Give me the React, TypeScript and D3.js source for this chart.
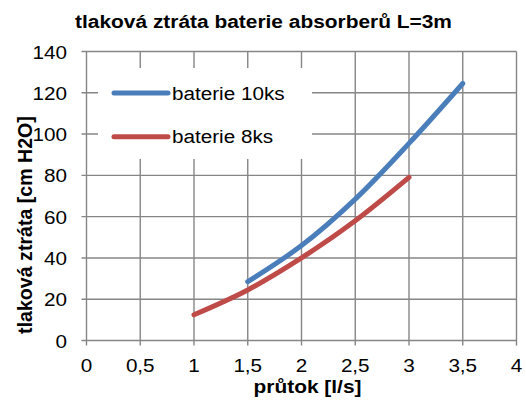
import React from "react";
import * as d3 from "d3";

const flowBlue = [1.5, 2, 2.5, 3, 3.5];
const lossBlue = [28.5, 46, 68.5, 95.5, 124.5];
const flowRed = [1, 1.5, 2, 2.5, 3];
const lossRed = [12.5, 24.5, 40, 58, 79];
const seriesNames = ["baterie 10ks", "baterie 8ks"];
const seriesColors = ["#4A7EBB", "#BE4B48"];
const xTicks = [0, 0.5, 1, 1.5, 2, 2.5, 3, 3.5, 4];
const yTicks = [0, 20, 40, 60, 80, 100, 120, 140];
const title = "tlaková ztráta baterie absorberů L=3m";
const xTitle = "průtok [l/s]";
const yTitle = "tlaková ztráta [cm H2O]";

const SX = 1.1;

function T(props: {
  x: number;
  y: number;
  size: number;
  bold?: boolean;
  anchor?: "start" | "middle" | "end";
  children: React.ReactNode;
}) {
  return (
    <text
      transform={`translate(${props.x},${props.y}) scale(${SX},1)`}
      textAnchor={props.anchor || "start"}
      fontSize={props.size}
      fontWeight={props.bold ? "bold" : "normal"}
      fill="#000"
    >
      {props.children}
    </text>
  );
}

export default function App() {
  const W = 526, H = 405;
  const left = 86.5, right = 516.5, top = 51.5, bottom = 340.5;
  const x = d3.scaleLinear().domain([0, 4]).range([left, right]);
  const y = d3.scaleLinear().domain([0, 140]).range([bottom, top]);
  const line = d3
    .line<[number, number]>()
    .x((d) => x(d[0]))
    .y((d) => y(d[1]))
    .curve(d3.curveCatmullRom.alpha(0.5));
  const series = [
    { name: seriesNames[0], color: seriesColors[0], pts: flowBlue.map((v, i) => [v, lossBlue[i]] as [number, number]) },
    { name: seriesNames[1], color: seriesColors[1], pts: flowRed.map((v, i) => [v, lossRed[i]] as [number, number]) },
  ];
  const font = "Liberation Sans, Arial, sans-serif";
  const grid = "#868686";
  const fmt = (v: number) => String(v).replace(".", ",");
  const fs = 18.8;
  return (
    <svg width={W} height={H} style={{ position: "absolute", left: 0, top: 0 }} fontFamily={font}>
      <rect width={W} height={H} fill="#fff" />
      <T x={263.5} y={28} size={19} bold anchor="middle">{title}</T>
      {xTicks.map((t) => (
        <line key={"gx" + t} x1={x(t)} x2={x(t)} y1={top} y2={bottom + 5} stroke={grid} strokeWidth={1.4} />
      ))}
      {yTicks.map((t) => (
        <line key={"gy" + t} x1={left - 5} x2={right} y1={y(t)} y2={y(t)} stroke={grid} strokeWidth={1.4} />
      ))}
      {yTicks.map((t) => (
        <T key={"ty" + t} x={67} y={y(t) + 7} size={fs} anchor="end">{t}</T>
      ))}
      {xTicks.map((t) => (
        <T key={"tx" + t} x={x(t)} y={371.5} size={fs} anchor="middle">{fmt(t)}</T>
      ))}
      <T x={307.5} y={393} size={19} bold anchor="middle">{xTitle}</T>
      <text
        transform={`translate(32,225) rotate(-90)`}
        textAnchor="middle"
        fontSize={19.6}
        fontWeight="bold"
        fill="#000"
      >
        {yTitle}
      </text>
      <rect x={98} y={68} width={214} height={91} fill="#fff" />
      {series.map((s) => (
        <path key={s.name} d={line(s.pts) || ""} fill="none" stroke={s.color} strokeWidth={5} strokeLinecap="round" />
      ))}
      {series.map((s, i) => (
        <g key={"lg" + i}>
          <line x1={114} x2={168} y1={93 + i * 43.7} y2={93 + i * 43.7} stroke={s.color} strokeWidth={5} strokeLinecap="round" />
          <T x={172} y={93 + i * 43.7 + 6.7} size={fs}>{s.name}</T>
        </g>
      ))}
    </svg>
  );
}
